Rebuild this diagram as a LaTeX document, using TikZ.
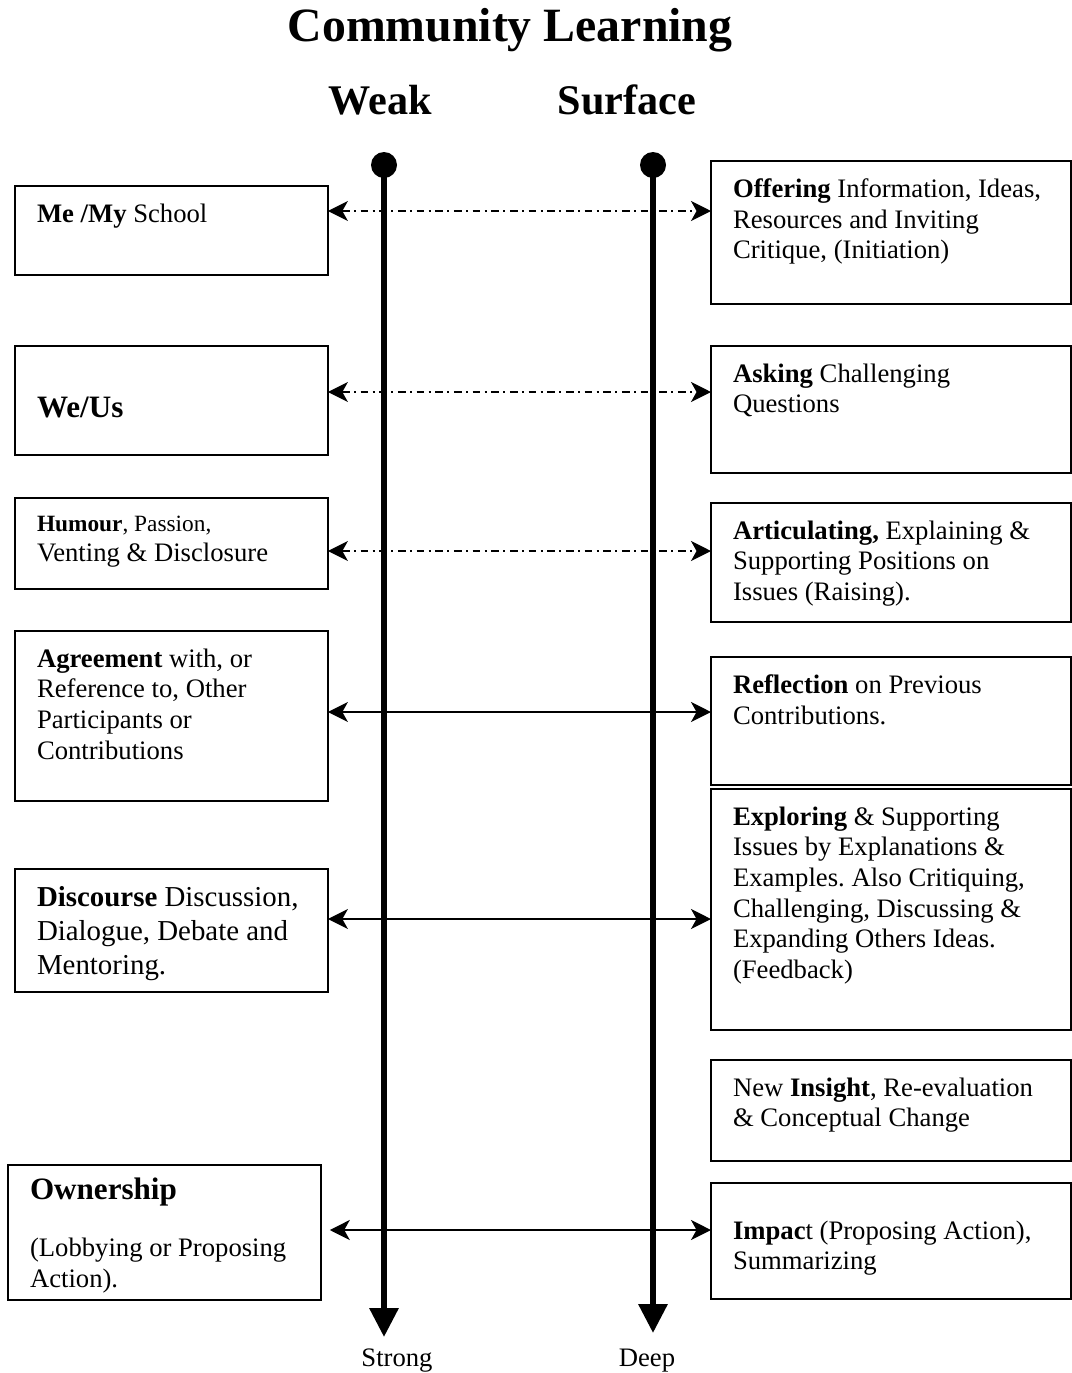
\documentclass[tikz,border=0pt]{standalone}
\usepackage{fontspec}
\setmainfont{Liberation Serif}
\usetikzlibrary{arrows.meta}
\frenchspacing
% text block of fixed size, set from the top
\newcommand{\boxtext}[3]{\parbox[t][#2][t]{#1}{\raggedright #3}}
\newcommand{\lw}{121pt}
\newcommand{\rw}{142.2pt}

\begin{document}
\begin{tikzpicture}[x=0.45pt, y=-0.45pt,
  every node/.style={font=\fontsize{12}{13.8}\selectfont},
  box/.style={draw, line width=0.8pt, anchor=north west, inner xsep=9.9pt, inner ysep=8pt, outer sep=0pt},
  link/.style={{Stealth[length=9pt,width=9pt,inset=2.5pt]}-{Stealth[length=9pt,width=9pt,inset=2.5pt]}, line width=0.7pt},
  dashdot/.style={dash pattern=on 3.5pt off 2pt on 0.9pt off 2pt},
  spine/.style={line width=2.7pt, -{Triangle[length=13pt,width=12.6pt]}},
  dot/.style={circle, fill, inner sep=0pt, minimum size=11.7pt}
  ]
  \useasboundingbox (0,0) rectangle (1072,1373);

  \node[font=\bfseries\fontsize{21.5}{26}\selectfont] (title) at (510,30) {Community Learning};
  \node[font=\bfseries\fontsize{19}{23}\selectfont] (weak) at (380,100) {Weak};
  \node[font=\bfseries\fontsize{19}{23}\selectfont] (surface) at (627,100) {Surface};

  % left column
  \node[box] (me) at (15,186) {\boxtext{\lw}{24.05pt}{\textbf{Me /My} School}};
  \node[box] (we) at (15,346) {\boxtext{\lw}{33.05pt}{\vspace*{15pt}\fontsize{14}{17}\selectfont\textbf{We/Us}}};
  \node[box] (humour) at (15,498) {\boxtext{\lw}{24.95pt}{{\fontsize{10.5}{13.8}\selectfont\textbf{Humour}, Passion,}\\ Venting \& Disclosure}};
  \node[box] (agree) at (15,631) {\boxtext{\lw}{60.5pt}{\textbf{Agreement} with, or\\ Reference to, Other\\ Participants or\\ Contributions}};
  \node[box] (discourse) at (15,869) {\boxtext{\lw}{39.35pt}{\fontsize{13}{15.3}\selectfont\textbf{Discourse} Discussion,\\ Dialogue, Debate and\\ Mentoring.}};
  \node[box] (own) at (8,1165) {\boxtext{\lw}{44.75pt}{\vspace*{-2.3pt}{\fontsize{14}{17}\selectfont\textbf{Ownership}}\\[12pt] (Lobbying or Proposing\\ Action).}};

  % right column
  \node[box] (offer) at (711,161) {\boxtext{\rw}{48.35pt}{\textbf{Offering} Information, Ideas,\\ Resources and Inviting\\ Critique, (Initiation)}};
  \node[box] (ask) at (711,346) {\boxtext{\rw}{41.15pt}{\textbf{Asking} Challenging\\ Questions}};
  \node[box] (artic) at (711,503) {\boxtext{\rw}{37.55pt}{\textbf{Articulating,} Explaining \&\\ Supporting Positions on\\ Issues (Raising).}};
  \node[box] (reflect) at (711,657) {\boxtext{\rw}{41.6pt}{\textbf{Reflection} on Previous\\ Contributions.}};
  \node[box] (explore) at (711,789) {\boxtext{\rw}{92.45pt}{\textbf{Exploring} \& Supporting\\ Issues by Explanations \&\\ Examples. Also Critiquing,\\ Challenging, Discussing \&\\ Expanding Others Ideas.\\ (Feedback)}};
  \node[box] (insight) at (711,1060) {\boxtext{\rw}{29.45pt}{New \textbf{Insight}, Re-evaluation\\ \& Conceptual Change}};
  \node[box] (impact) at (711,1183) {\boxtext{\rw}{36.2pt}{\vspace*{9pt}\textbf{Impac}t (Proposing Action),\\ Summarizing}};

  % links between the columns
  \draw[link, dashdot] (me.east |- 0,211) -- (offer.west |- 0,211);
  \draw[link, dashdot] (we.east |- 0,392) -- (ask.west |- 0,392);
  \draw[link, dashdot] (humour.east |- 0,551) -- (artic.west |- 0,551);
  \draw[link] (agree.east |- 0,712) -- (reflect.west |- 0,712);
  \draw[link] (discourse.east |- 0,919) -- (explore.west |- 0,919);
  \draw[link] ([xshift=4pt]own.east |- 0,1230) -- (impact.west |- 0,1230);

  % the two scales
  \node[dot] (weakdot) at (384,165) {};
  \node[dot] (surfdot) at (653,165) {};
  \coordinate (weakend) at (384,1337);
  \coordinate (surfend) at (653,1333);
  \draw[spine] (weakdot.center) -- (weakend);
  \draw[spine] (surfdot.center) -- (surfend);

  \node (strong) at (397,1361) {Strong};
  \node (deep) at (647,1361) {Deep};
\end{tikzpicture}
\end{document}
